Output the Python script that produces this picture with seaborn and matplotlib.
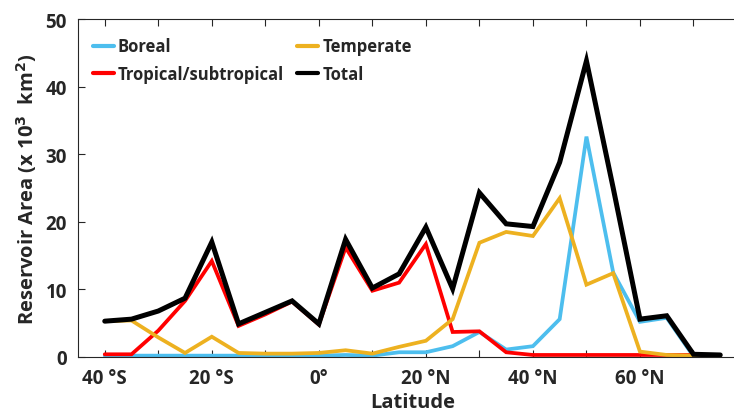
import numpy as np
import pandas as pd
import matplotlib
matplotlib.use("Agg")
import matplotlib.pyplot as plt
import seaborn as sns

latitude = list(range(-40, 80, 5))
boreal = [0.2, 0.2, 0.2, 0.2, 0.2, 0.2, 0.2, 0.2, 0.2, 0.3, 0.2, 0.7,
          0.7, 1.6, 3.7, 1.1, 1.6, 5.6, 32.6, 12.5, 5.2, 5.8, 0.1, 0.1]
tropical = [0.4, 0.4, 3.9, 8.3, 14.2, 4.6, 6.3, 8.2, 4.8, 16.2, 9.8, 11.0,
            16.7, 3.7, 3.8, 0.7, 0.3, 0.3, 0.3, 0.3, 0.3, 0.3, 0.3, 0.3]
temperate = [5.3, 5.4, 2.9, 0.6, 3.0, 0.6, 0.5, 0.5, 0.6, 1.0, 0.5, 1.5,
             2.4, 5.6, 16.9, 18.5, 17.9, 23.5, 10.7, 12.4, 0.8, 0.3, 0.2, 0.2]
total = [5.3, 5.6, 6.8, 8.7, 17.0, 4.9, 6.6, 8.3, 4.9, 17.4, 10.2, 12.3,
         19.2, 10.1, 24.3, 19.7, 19.3, 28.8, 43.8, 25.0, 5.6, 6.1, 0.4, 0.3]

series_names = ["Boreal", "Tropical/subtropical", "Temperate", "Total"]
series_colors = ["#4DBEEE", "#FF0000", "#EDB120", "#000000"]
tick_positions = [-40, -20, 0, 20, 40, 60]
tick_labels = ["40 °S", "20 °S", "0°", "20 °N", "40 °N", "60 °N"]

df = pd.DataFrame({
    "Latitude": latitude * 4,
    "Area": boreal + tropical + temperate + total,
    "Type": sum([[n] * len(latitude) for n in series_names], []),
})

sns.set_style("ticks")
plt.rcParams["font.family"] = ["Open Sans", "DejaVu Sans"]
plt.rcParams["font.weight"] = "bold"
plt.rcParams["mathtext.default"] = "bf"

fig = plt.figure(figsize=(7.34, 4.14), dpi=100)
ax = fig.add_axes([78 / 734, 1 - 358 / 414, (747 - 78) / 734, (358 - 20) / 414])

sns.lineplot(data=df, x="Latitude", y="Area", hue="Type", hue_order=series_names,
             palette=dict(zip(series_names, series_colors)), ax=ax,
             linewidth=2.7, legend=True)
for line, name in zip(ax.lines, series_names):
    if name == "Total":
        line.set_linewidth(3.6)
    line.set_solid_joinstyle("miter")

ax.set_xlim(-45, 80)
ax.set_ylim(0, 50)
ax.set_xticks(range(-40, 81, 10))
ax.set_xticklabels([tick_labels[tick_positions.index(t)] if t in tick_positions else ""
                    for t in range(-40, 81, 10)])
ax.set_yticks(range(0, 51, 10))
ax.tick_params(direction="in", top=True, right=True, length=5, width=0.8,
               labelsize=13.5, pad=8)
for lab in ax.get_xticklabels() + ax.get_yticklabels():
    lab.set_fontweight("bold")
for s in ax.spines.values():
    s.set_linewidth(0.8)
    s.set_visible(True)

ax.set_xlabel("Latitude", fontsize=14.5, fontweight="bold", labelpad=3)
ax.set_ylabel("Reservoir Area (x 10$^{3}$  km$^{2}$)", fontsize=14.5,
              fontweight="bold", labelpad=5)

handles, labels = ax.get_legend_handles_labels()
leg = ax.legend(handles, labels, loc="upper left", bbox_to_anchor=(0.012, 0.965),
                ncol=2, frameon=False, handlelength=1.25, handletextpad=0.25,
                columnspacing=0.8, labelspacing=0.55, borderaxespad=0,
                prop={"weight": "bold", "size": 12})
for h in leg.get_lines():
    h.set_linewidth(3)

fig.savefig("out.png", dpi=100)
